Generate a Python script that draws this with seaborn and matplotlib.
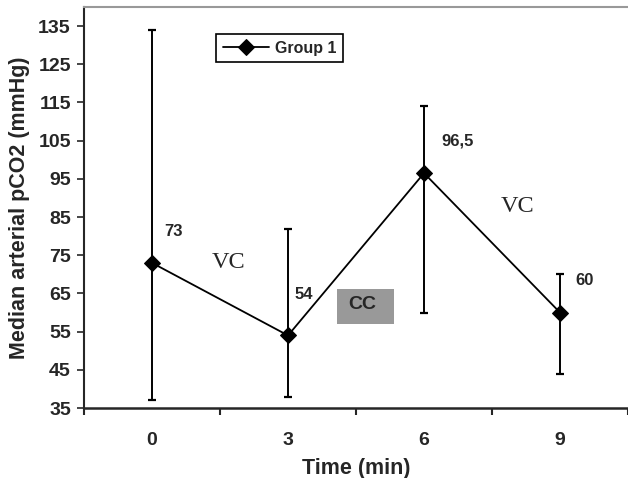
import matplotlib
matplotlib.use('Agg')
import matplotlib.pyplot as plt
from matplotlib.patches import Rectangle
import seaborn as sns
import pandas as pd

# =====================================
# DATA
# =====================================

time_labels = ['0', '3', '6', '9']
median_pco2 = [73, 54, 96.5, 60]
pco2_low = [37, 38, 60, 44]
pco2_high = [134, 82, 114, 70]
point_labels = ['73', '54', '96,5', '60']

df = pd.DataFrame({
    'pos': range(len(time_labels)),
    'pco2': median_pco2,
    'low': pco2_low,
    'high': pco2_high,
})

# =====================================
# PLOT
# =====================================

sns.set_style('ticks')
plt.rcParams['font.family'] = ['Liberation Sans', 'DejaVu Sans']

fig = plt.figure(figsize=(6.28, 4.78), dpi=100)
ax = fig.add_axes([0.1338, 0.1464, 0.8662, 0.839])

# error bars
ax.errorbar(
    df['pos'], df['pco2'],
    yerr=[df['pco2'] - df['low'], df['high'] - df['pco2']],
    fmt='none', ecolor='black', elinewidth=1.4,
    capsize=2.9, capthick=1.6, zorder=2
)

sns.lineplot(
    data=df, x='pos', y='pco2',
    color='black', linewidth=1.3,
    marker='D', markersize=8, markeredgecolor='black',
    label='Group 1', ax=ax, zorder=3
)

# value labels (offset in pixels from the point)
offsets = [(12, 31), (7, 41), (17, 32), (15, 32)]
for i, txt in enumerate(point_labels):
    ax.annotate(
        txt, (df['pos'][i], df['pco2'][i]),
        xytext=offsets[i], textcoords='offset pixels',
        fontsize=12, fontweight='bold', ha='left', va='center'
    )

# phase labels
ax.text(0.564, 71.6, 'VC', fontsize=17.5, family='Liberation Serif',
        ha='center', va='baseline')
ax.text(2.689, 86.3, 'VC', fontsize=17.5, family='Liberation Serif',
        ha='center', va='baseline')
ax.add_patch(Rectangle((1.363, 57.0), 0.417, 9.15,
                       facecolor='#999999', edgecolor='none', zorder=1))
ax.text(1.546, 61.0, 'CC', fontsize=14, fontweight='bold',
        ha='center', va='baseline', zorder=2)

# axes
ax.set_xlim(-0.5, 3.5)
ax.set_ylim(35, 140)
ax.set_yticks(range(35, 136, 10))
ax.set_xticks([-0.5, 0.5, 1.5, 2.5, 3.5])
ax.set_xticklabels([])
ax.set_xticks(range(4), minor=True)
ax.set_xticklabels(time_labels, minor=True)
ax.tick_params(axis='x', which='minor', length=0, pad=17, labelsize=14)
ax.tick_params(axis='x', which='major', length=5, width=1.5)
ax.tick_params(axis='y', length=5, width=1.2, labelsize=14, pad=4.5)
for lab in ax.get_xticklabels(minor=True) + ax.get_yticklabels():
    lab.set_fontweight('bold')

ax.spines['left'].set_linewidth(1.5)
ax.spines['bottom'].set_linewidth(1.8)
ax.spines['top'].set_color('#999999')
ax.spines['top'].set_linewidth(1.5)
ax.spines['right'].set_visible(False)

ax.set_xlabel('Time (min)', fontsize=15.5, fontweight='bold', labelpad=7)
ax.set_ylabel('Median arterial pCO2 (mmHg)', fontsize=15.5, fontweight='bold',
              labelpad=6)

leg = ax.legend(
    loc='upper left', bbox_to_anchor=(0.2426, 0.933),
    fancybox=False, edgecolor='black', framealpha=1,
    prop={'weight': 'bold', 'size': 11.5}, handlelength=2.9,
    borderpad=0.42, borderaxespad=0, handletextpad=0.35
)
leg.get_frame().set_linewidth(1.2)

fig.savefig('out.png', dpi=100)
